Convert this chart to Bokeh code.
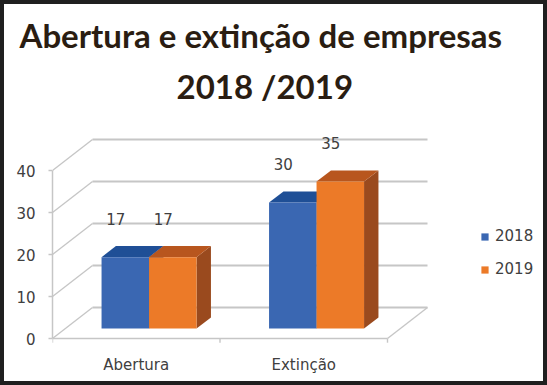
from bokeh.plotting import figure
from bokeh.models import (Range1d, LinearAxis, FixedTicker, Legend, LegendItem,
                          GlobalInlineStyleSheet, Title)
from bokeh.core.properties import value
from bokeh.embed import file_html
from bokeh.resources import INLINE

# ---------------- data ----------------
title_lines = ["Abertura e extinção de empresas", "2018 /2019"]
categories = ["Abertura", "Extinção"]
series_names = ["2018", "2019"]
values_2018 = [17, 30]
values_2019 = [17, 35]
y_ticks = [0, 10, 20, 30, 40]

# ---------------- style / geometry ----------------
PAD = 4
W, H = 547 - 2 * PAD, 385 - 2 * PAD
AXIS_PX = 52                      # page x of value axis
BORDER_LEFT = AXIS_PX - PAD
BORDER_TOP = 106
PX_X = 167.5                      # pixels per category
PX_Y = 4.2                        # pixels per value unit
DX = 40 / PX_X                    # depth offset (x, category units)
DV = 31 / PX_Y                    # depth offset (y, value units)
F1, F2 = 0.32, 0.68               # bar depth (front/back fraction)
BAR_W = 0.2836
ZERO_PX = 338 - PAD               # canvas px of value 0 from top


def page_y(py):
    return (338 - py) / PX_Y


colors_front = ["#3a67b2", "#ec7a28"]
colors_top = ["#1f4f96", "#b8561e"]
colors_side = ["#2a4f8c", "#9a4a1e"]
grid_color = "#c6c6c6"
text_color = "#404040"
title_color = "#2a1d12"

p = figure(width=W, height=H, output_backend="svg", toolbar_location=None,
           x_axis_location=None, y_axis_location=None,
           x_range=Range1d(0, (W - BORDER_LEFT) / PX_X),
           y_range=Range1d(-(H - ZERO_PX) / PX_Y, (ZERO_PX - BORDER_TOP) / PX_Y),
           min_border_left=BORDER_LEFT, min_border_right=0,
           min_border_top=BORDER_TOP, min_border_bottom=0,
           background_fill_color="white", border_fill_color="white",
           outline_line_color=None)
p.grid.visible = False
p.styles = {"background-color": "white"}
p.stylesheets = [GlobalInlineStyleSheet(
    css="body{background:#1f1f1f !important; padding:4px !important; margin:0 !important;}")]

n = len(categories)

# back wall gridlines
p.segment(x0=[DX] * len(y_ticks), y0=[t + DV for t in y_ticks],
          x1=[n + DX] * len(y_ticks), y1=[t + DV for t in y_ticks],
          line_color=grid_color, line_width=1.8)
# side wall diagonals
p.segment(x0=[0] * len(y_ticks), y0=y_ticks,
          x1=[DX] * len(y_ticks), y1=[t + DV for t in y_ticks],
          line_color=grid_color, line_width=1.4)
# floor front edge and right edge
p.segment(x0=[0, n], y0=[0, 0], x1=[n, n + DX], y1=[0, DV],
          line_color=grid_color, line_width=1.4)
# category boundary ticks
p.segment(x0=list(range(n + 1)), y0=[0] * (n + 1),
          x1=list(range(n + 1)), y1=[-1.0] * (n + 1),
          line_color=grid_color, line_width=1.4)

# bars
front_renderers = []
label_x, label_y, label_t = [], [], []
for j, vals in enumerate([values_2018, values_2019]):
    lefts, rights, tops, bottoms = [], [], [], []
    top_xs, top_ys, side_xs, side_ys = [], [], [], []
    for i, v in enumerate(vals):
        x0 = i + 0.5 - BAR_W + j * BAR_W
        x1 = x0 + BAR_W
        lefts.append(x0 + F1 * DX)
        rights.append(x1 + F1 * DX)
        bottoms.append(F1 * DV)
        tops.append(v + F1 * DV)
        top_xs.append([x0 + F1 * DX, x1 + F1 * DX, x1 + F2 * DX, x0 + F2 * DX])
        top_ys.append([v + F1 * DV, v + F1 * DV, v + F2 * DV, v + F2 * DV])
        side_xs.append([x1 + F1 * DX, x1 + F2 * DX, x1 + F2 * DX, x1 + F1 * DX])
        side_ys.append([F1 * DV, F2 * DV, v + F2 * DV, v + F1 * DV])
        label_x.append((x0 + x1) / 2 + 0.02)
        label_y.append(v + 11.5)
        label_t.append(str(v))
    p.patches(xs=side_xs, ys=side_ys, fill_color=colors_side[j], line_color=None)
    p.patches(xs=top_xs, ys=top_ys, fill_color=colors_top[j], line_color=None)
    r = p.quad(left=lefts, right=rights, bottom=bottoms, top=tops,
               fill_color=colors_front[j], line_color=None)
    front_renderers.append(r)

# data labels
p.text(x=label_x, y=label_y, text=label_t, text_font=value("DejaVu Sans"),
       text_font_size="15px", text_color=text_color,
       text_align="center", text_baseline="middle")

# category labels
p.text(x=[i + 0.5 for i in range(n)], y=[page_y(364)] * n, text=categories,
       text_font=value("DejaVu Sans"), text_font_size="15px",
       text_color=text_color, text_align="center", text_baseline="middle")

# title: two lines, added inner line first
for line, left_px, gap in [(title_lines[1], 176, 10), (title_lines[0], 19, 7)]:
    p.add_layout(Title(text=line, align="left", offset=left_px - AXIS_PX,
                       standoff=gap, text_font="Lato", text_font_style="bold",
                       text_font_size="33px", text_color=title_color), "above")

# value axis
yaxis = LinearAxis(ticker=FixedTicker(ticks=y_ticks), bounds=(0, 40),
                   axis_line_color=grid_color, axis_line_width=1.5,
                   major_tick_line_color=grid_color, major_tick_line_width=1.5,
                   major_tick_out=4, major_tick_in=0,
                   minor_tick_out=0, minor_tick_in=0,
                   major_label_standoff=13,
                   major_label_text_font="DejaVu Sans",
                   major_label_text_font_size="15px",
                   major_label_text_color=text_color)
p.add_layout(yaxis, "left")

# legend
legend = Legend(items=[LegendItem(label=series_names[k], renderers=[front_renderers[k]])
                       for k in range(2)],
                location=(428, 102), orientation="vertical",
                glyph_width=9, glyph_height=9, label_standoff=6,
                spacing=13, padding=0, margin=0, label_height=20,
                border_line_color=None, background_fill_alpha=0,
                label_text_font="DejaVu Sans", label_text_font_size="15px",
                label_text_color=text_color)
p.add_layout(legend)

open("out.html", "w").write(file_html(p, INLINE))
